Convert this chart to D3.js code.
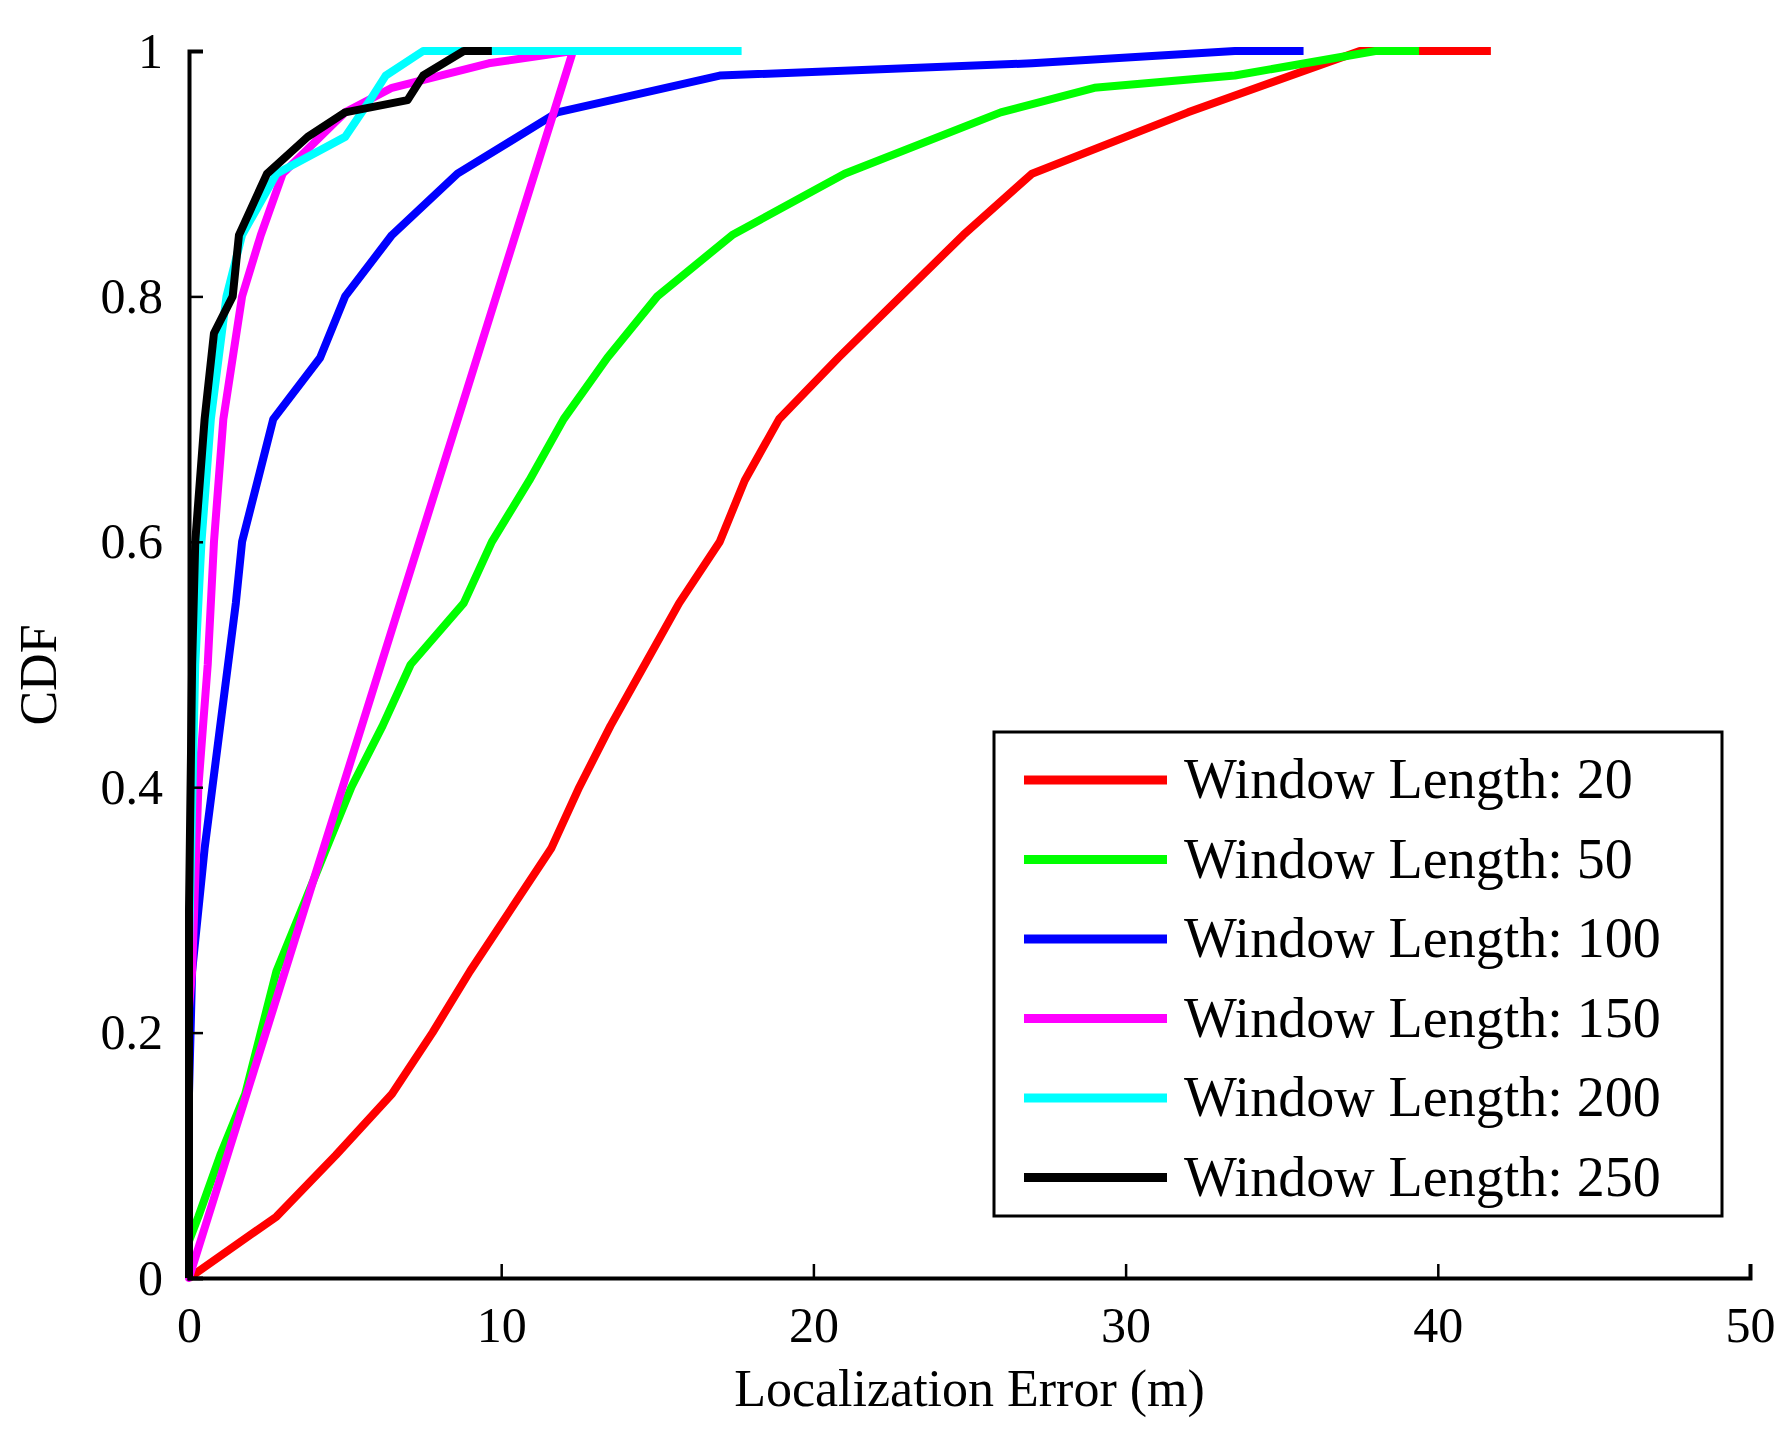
<!DOCTYPE html>
<html><head><meta charset="utf-8">
<script src="https://cdn.jsdelivr.net/npm/d3@7"></script>
<style>body{margin:0;background:#fff}svg{font-family:"Liberation Serif","Times New Roman",serif}</style>
</head><body><svg id="c" width="1785" height="1431"></svg>
<script>
const seriesNames = ["Window Length: 20","Window Length: 50","Window Length: 100","Window Length: 150","Window Length: 200","Window Length: 250"];
const seriesColors = ["#ff0000","#00ff00","#0000ff","#ff00ff","#00ffff","#000000"];
const xTicks = [0,10,20,30,40,50];
const yTicks = [0,0.2,0.4,0.6,0.8,1];
const x20 = [0,2.8,4.7,6.5,7.8,9,10.3,11.6,12.5,13.5,14.6,15.7,17,17.8,18.9,20.8,22.8,24.8,27,32,37.5,41.7];
const p20 = [0,.05,.1,.15,.2,.25,.3,.35,.4,.45,.5,.55,.6,.65,.7,.75,.8,.85,.9,.95,1,1];
const x50 = [0,0,0.3,1,1.8,2.3,2.8,3.6,4.4,5.2,6.2,7.1,8.8,9.7,10.9,12,13.4,15,17.4,21,26,29,33.5,38,39.4];
const p50 = [0,.03,.05,.1,.15,.2,.25,.3,.35,.4,.45,.5,.55,.6,.65,.7,.75,.8,.85,.9,.95,.97,.98,1,1];
const x100 = [0,0,0.1,0.5,1,1.5,1.7,2.2,2.7,4.2,5,6.5,8.6,11.8,17,27,33.5,35.7];
const p100 = [0,.15,.25,.35,.45,.55,.6,.65,.7,.75,.8,.85,.9,.95,.98,.99,1,1];
const x150 = [0,0,0.1,0.3,0.6,0.8,1.1,1.7,2.3,3,5,6.5,9.6,12.3];
const p150 = [0,.22,.25,.4,.5,.6,.7,.8,.85,.9,.95,.97,.99,1];
const x200 = [0,0,0.2,0.4,0.7,1.2,1.7,2.8,5,5.8,6.3,7.5,17.7];
const p200 = [0,.27,.5,.6,.7,.8,.85,.9,.93,.96,.98,1,1];
const x250 = [0,0,0.1,0.2,0.5,0.8,1.4,1.6,2.5,3.8,5,7,7.5,8.8,9.7];
const p250 = [0,.3,.5,.6,.7,.77,.8,.85,.9,.93,.95,.96,.98,1,1];
const series = [[x20,p20],[x50,p50],[x100,p100],[x150,p150],[x200,p200],[x250,p250]];

const svg = d3.select("#c");
const L=189,R=1750,T=51,B=1278;
const x = d3.scaleLinear().domain([0,50]).range([L,R]);
const y = d3.scaleLinear().domain([0,1]).range([B,T]);
const line = d3.line().x(d=>x(d[0])).y(d=>y(d[1])).curve(d3.curveMonotoneY);
series.forEach((s,i)=>{
  const pts = s[0].map((v,j)=>[v,s[1][j]]);
  const top = pts.filter(p=>p[1]<1 || p===pts.find(q=>q[1]===1));
  const tail = pts.filter(p=>p[1]===1);
  svg.append("path").attr("d",d3.line().x(d=>x(d[0])).y(d=>y(d[1])).curve(d3.curveLinear)(top)+d3.line().x(d=>x(d[0])).y(d=>y(d[1]))(tail).replace(/^M/,"L"))
    .attr("fill","none").attr("stroke",seriesColors[i]).attr("stroke-width",8).attr("stroke-linejoin","round");
});
const ax = svg.append("g").attr("transform",`translate(0,${B})`).call(d3.axisBottom(x).tickValues(xTicks).tickSize(-14).tickPadding(28).tickFormat(d3.format("d")));
const ay = svg.append("g").attr("transform",`translate(${L},0)`).call(d3.axisLeft(y).tickValues(yTicks).tickSize(-14).tickPadding(22).tickFormat(d=>d===0||d===1?d:d3.format(".1f")(d)));
[ax,ay].forEach(a=>{a.select(".domain").attr("stroke","#000").attr("stroke-width",4);a.selectAll(".tick line").attr("stroke-width",2.5);a.selectAll("text").attr("font-size",50).attr("font-family","Liberation Serif").attr("fill","#000");});
ay.selectAll("text").attr("dx",-4);
svg.append("text").attr("x",(L+R)/2).attr("y",1406).attr("text-anchor","middle").attr("font-size",52).text("Localization Error (m)");
svg.append("text").attr("transform","translate(56,675) rotate(-90)").attr("text-anchor","middle").attr("font-size",52).text("CDF");
const lg = svg.append("g");
lg.append("rect").attr("x",994).attr("y",732).attr("width",728).attr("height",484).attr("fill","#fff").attr("stroke","#000").attr("stroke-width",3);
seriesNames.forEach((n,i)=>{
  const yy = 780+i*79.5;
  lg.append("line").attr("x1",1024).attr("x2",1167).attr("y1",yy).attr("y2",yy).attr("stroke",seriesColors[i]).attr("stroke-width",9);
  lg.append("text").attr("x",1184).attr("y",yy+18).attr("font-size",56).text(n);
});
</script></body></html>
